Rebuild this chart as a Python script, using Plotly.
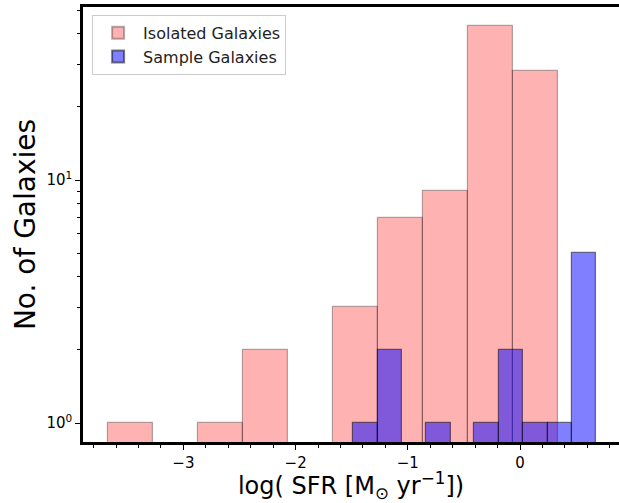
import plotly.graph_objects as go

# Isolated galaxies histogram (bin edges in log SFR, counts)
iso_edges = [-3.669, -3.268, -2.870, -2.469, -2.068, -1.667, -1.266, -0.865, -0.463, -0.062, 0.342]
iso_counts = [1, 0, 1, 2, 0, 3, 7, 9, 43, 28]

# Sample galaxies histogram
sam_edges = [-1.486, -1.268, -1.049, -0.835, -0.618, -0.407, -0.184, 0.029, 0.247, 0.463, 0.680]
sam_counts = [1, 2, 0, 1, 0, 1, 2, 1, 1, 5]

x_tick_vals = [-3, -2, -1, 0]
x_tick_text = ["\u22123", "\u22122", "\u22121", "0"]
y_tick_vals = [1, 10]
y_tick_text = ["10<sup>0</sup>", "10<sup>1</sup>"]


def bar_geom(edges, counts):
    centers = [(edges[i] + edges[i + 1]) / 2 for i in range(len(counts))]
    widths = [edges[i + 1] - edges[i] for i in range(len(counts))]
    ys = [c if c > 0 else None for c in counts]
    return centers, widths, ys


font = "DejaVu Sans"
fig = go.Figure()

cx, w, ys = bar_geom(iso_edges, iso_counts)
fig.add_trace(go.Bar(
    x=cx, y=ys, width=w, name="Isolated Galaxies",
    marker=dict(color="rgba(255,0,0,0.3)", line=dict(color="rgba(0,0,0,0.3)", width=1.2)),
    hoverinfo="skip",
))
cx, w, ys = bar_geom(sam_edges, sam_counts)
fig.add_trace(go.Bar(
    x=cx, y=ys, width=w, name="Sample Galaxies",
    marker=dict(color="rgba(0,0,255,0.5)", line=dict(color="rgba(0,0,0,0.5)", width=1.2)),
    hoverinfo="skip",
))

minor_x = [v / 10 for v in range(-38, 9, 2) if v % 10 != 0]
minor_y = [2, 3, 4, 5, 6, 7, 8, 9, 20, 30, 40, 50]

fig.update_layout(
    width=619, height=503, autosize=False,
    margin=dict(l=83, r=0, t=7, b=61, autoexpand=False),
    paper_bgcolor="white", plot_bgcolor="white",
    barmode="overlay", bargap=0,
    font=dict(family=font, color="black", size=15),
    showlegend=True,
    legend=dict(
        x=0.017, y=0.982, xanchor="left", yanchor="top",
        bordercolor="#cccccc", borderwidth=1, bgcolor="rgba(255,255,255,0.8)",
        font=dict(family=font, size=16, color="#222"),
        itemsizing="constant", tracegroupgap=0, itemwidth=40,
    ),
    xaxis=dict(
        range=[-3.895, 0.882], automargin=False,
        tickvals=x_tick_vals, ticktext=x_tick_text,
        ticks="outside", ticklen=5, tickwidth=1.3, tickcolor="black",
        showline=True, linewidth=2.5, linecolor="black", mirror=True,
        showgrid=False, zeroline=False,
        tickfont=dict(family=font, size=15),
        minor=dict(tickvals=minor_x, ticks="outside", ticklen=3, tickwidth=1, tickcolor="black", showgrid=False),
        title=dict(text="log( SFR [M<sub>\u2299</sub> yr<sup>\u22121</sup>])",
                   font=dict(family=font, size=24), standoff=3),
    ),
    yaxis=dict(
        type="log", range=[-0.078, 1.712], automargin=False,
        tickvals=y_tick_vals, ticktext=y_tick_text,
        ticks="outside", ticklen=5, tickwidth=1.3, tickcolor="black",
        showline=True, linewidth=2.5, linecolor="black", mirror=False,
        showgrid=False, zeroline=False,
        tickfont=dict(family=font, size=15),
        minor=dict(tickvals=minor_y, ticks="outside", ticklen=3, tickwidth=1, tickcolor="black", showgrid=False),
        title=dict(text="No. of Galaxies", font=dict(family=font, size=28), standoff=3),
    ),
)

fig.write_html("out.html", config={"displayModeBar": False},
               post_script="document.body.style.margin='0';")
